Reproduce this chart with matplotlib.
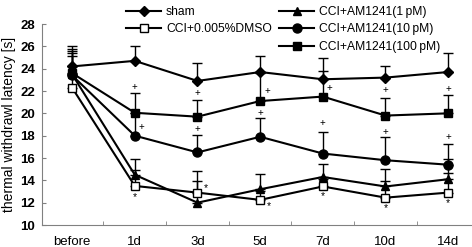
import matplotlib
matplotlib.use('Agg')
import matplotlib.pyplot as plt
import numpy as np

plt.rcParams['font.family'] = ['Liberation Sans', 'DejaVu Sans']

# Data
days = ['before', '1d', '3d', '5d', '7d', '10d', '14d']

sham = [24.2, 24.7, 22.9, 23.7, 23.05, 23.2, 23.7]
sham_err = [1.8, 1.35, 1.6, 1.4, 1.95, 1.0, 1.7]

dmso = [22.3, 13.5, 12.9, 12.25, 13.45, 12.45, 12.9]
dmso_err = [2.8, 1.4, 1.0, 0.8, 0.7, 1.45, 1.8]

am1 = [23.5, 14.5, 12.0, 13.2, 14.3, 13.45, 14.1]
am1_err = [1.9, 1.4, 2.8, 1.4, 1.2, 1.55, 1.8]

am10 = [23.4, 18.0, 16.5, 17.9, 16.4, 15.8, 15.4]
am10_err = [2.2, 2.0, 1.56, 1.65, 1.9, 2.1, 1.85]

am100 = [23.6, 20.05, 19.7, 21.1, 21.5, 19.8, 20.0]
am100_err = [2.2, 1.8, 1.5, 2.5, 2.3, 1.6, 1.6]

# significance marks: (category index, y value)
plus_100 = [(1, 22.4), (2, 21.8), (3, 22.0), (4, 22.3), (5, 22.1), (6, 22.2)]
plus_10 = [(1, 18.8), (2, 18.6), (3, 20.0), (4, 19.1), (5, 18.35), (6, 17.85)]
star_dmso = [(1, 12.5), (2, 13.3), (3, 11.7), (4, 12.6), (5, 11.5), (6, 11.95)]

fig = plt.figure(figsize=(4.72, 2.47), dpi=100)
ax = fig.add_axes([42/472, 22/247, 1 - 42/472, 201/247])

x = np.arange(len(days))
grey = '#808080'

def series(y, err, marker, ms, label, face='black'):
  ax.errorbar(x, y, yerr=[np.zeros(len(err)), err], color='black', lw=1.5,
              marker=marker, ms=ms, mfc=face, mec='black', mew=1.0,
              elinewidth=1.0, capsize=3.5, capthick=1.0, label=label)

series(sham, sham_err, 'D', 5.0, 'sham')
series(dmso, dmso_err, 's', 5.5, 'CCI+0.005%DMSO', face='white')
series(am1, am1_err, '^', 6.0, 'CCI+AM1241(1\u2009pM)')
series(am10, am10_err, 'o', 6.5, 'CCI+AM1241(10\u2009pM)')
series(am100, am100_err, 's', 6.2, 'CCI+AM1241(100\u2009pM)')

for i, v in plus_100:
  dx = 0.11 if i in (3, 4) else 0.0
  ax.text(i + dx, v, '+', fontsize=7, ha='center', va='center')
for i, v in plus_10:
  dx = 0.1 if i == 1 else 0.0
  ax.text(i + dx, v, '+', fontsize=7, ha='center', va='center')
for i, v in star_dmso:
  dx = 0.14 if i in (2, 3) else 0.0
  ax.text(i + dx, v, '*', fontsize=7.5, ha='center', va='center')

ax.set_xlim(-0.48, 6.38)
ax.set_ylim(10, 28)
ax.set_yticks(np.arange(10, 29, 2))
ax.set_xticks(x)
ax.set_xticklabels(days, fontsize=9.5)
ax.set_xticks(np.arange(0.5, 6, 1), minor=True)
ax.tick_params(axis='x', which='major', length=0, pad=8)
ax.tick_params(axis='x', which='minor', direction='in', length=3, color=grey)
ax.tick_params(axis='y', direction='in', length=3, color=grey, labelsize=9.5, pad=5)
for t in ax.get_yticklabels():
  t.set_fontweight('bold')

for s in ['top', 'right']:
  ax.spines[s].set_visible(False)
for s in ['left', 'bottom']:
  ax.spines[s].set_color(grey)
  ax.spines[s].set_linewidth(0.8)

ax.set_ylabel('thermal withdrawl latency [s]', fontsize=10, labelpad=3)

handles, labels = ax.get_legend_handles_labels()
handles = [h[0] for h in handles]
leg_kw = dict(loc='upper left', frameon=False, fontsize=8.7, borderpad=0.0,
              handlelength=2.9, handletextpad=0.4, labelspacing=0.45)
fig.legend(handles[:2], labels[:2], bbox_to_anchor=(120/472, 1.0), **leg_kw)
fig.legend(handles[2:], labels[2:], bbox_to_anchor=(273/472, 1.0), **leg_kw)

fig.savefig('out.png', dpi=100)
